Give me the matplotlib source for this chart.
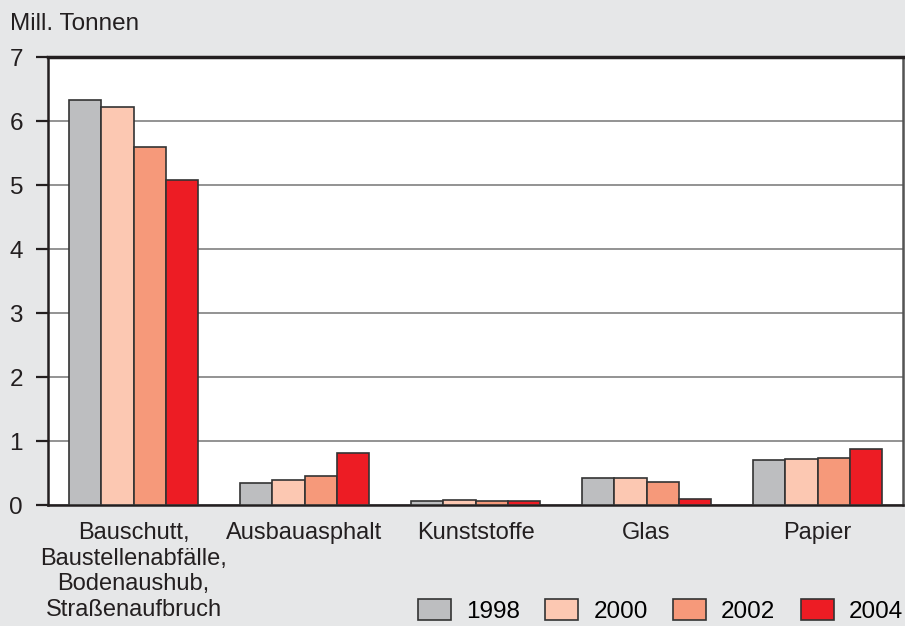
import matplotlib.pyplot as plt
import numpy as np

plt.rcParams['font.family'] = ['Liberation Sans', 'DejaVu Sans']

categories = ["Bauschutt,\nBaustellenabfälle,\nBodenaushub,\nStraßenaufbruch",
              "Ausbauasphalt", "Kunststoffe", "Glas", "Papier"]
years = ["1998", "2000", "2002", "2004"]
values = {
    "1998": [6.33, 0.35, 0.07, 0.42, 0.70],
    "2000": [6.22, 0.39, 0.08, 0.42, 0.72],
    "2002": [5.59, 0.45, 0.07, 0.36, 0.74],
    "2004": [5.08, 0.82, 0.07, 0.09, 0.88],
}
colors = ["#bdbec0", "#fcc8b2", "#f6997a", "#ed1c24"]
yticks = [0, 1, 2, 3, 4, 5, 6, 7]

bg = "#e6e7e8"
fig = plt.figure(figsize=(9.05, 6.26), dpi=100, facecolor=bg)
ax = fig.add_axes([48 / 905, 121 / 626, 855 / 905, 448 / 626])
ax.set_facecolor("white")

x = np.arange(len(categories))
w = 0.19
for i, yr in enumerate(years):
    ax.bar(x + (i - 1.5) * w, values[yr], width=w, color=colors[i],
           edgecolor="#333333", linewidth=1.2, label=yr, zorder=3)

ax.set_xlim(-0.5, len(categories) - 0.5)
ax.set_ylim(0, 7)
ax.set_yticks(yticks)
ax.set_yticklabels([str(t) for t in yticks], fontsize=17.5, color="#231f20")
ax.yaxis.grid(True, color="#808080", linewidth=1.2, zorder=0)
ax.set_axisbelow(True)
ax.tick_params(axis="y", length=9, width=1.6, color="#231f20", pad=9)
ax.tick_params(axis="x", length=0, pad=12.5)
ax.set_xticks(x)
ax.set_xticklabels(categories, fontsize=17, color="#231f20")

ax.spines["top"].set_linewidth(2.5)
ax.spines["top"].set_color("#231f20")
ax.spines["left"].set_linewidth(1.8)
ax.spines["left"].set_color("#231f20")
ax.spines["bottom"].set_linewidth(1.8)
ax.spines["bottom"].set_color("#231f20")
ax.spines["right"].set_linewidth(1.8)
ax.spines["right"].set_color("#555555")

fig.text(10 / 905, 1 - 24 / 626, "Mill. Tonnen", fontsize=17.5, color="#231f20",
         ha="left", va="center")

fig.legend(loc="lower right", bbox_to_anchor=(903 / 905, 3 / 626), ncol=4, frameon=False,
           fontsize=17.5, handlelength=1.35, handleheight=0.95, columnspacing=1.05,
           handletextpad=0.62, borderpad=0, borderaxespad=0)

fig.savefig("out.png", dpi=100, facecolor=bg)
